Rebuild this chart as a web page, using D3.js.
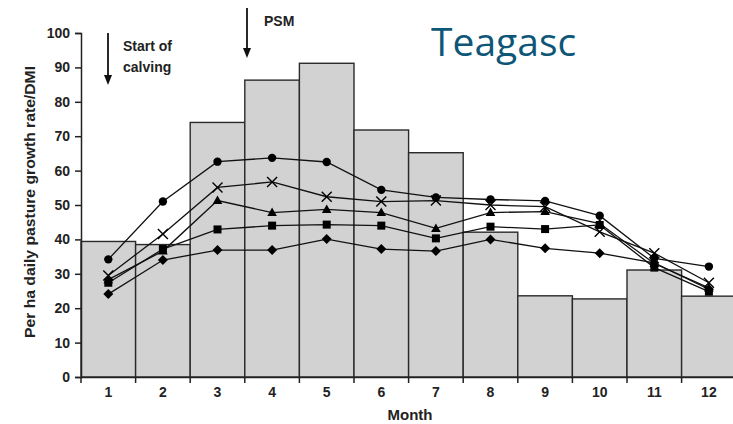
<!DOCTYPE html>
<html><head><meta charset="utf-8">
<script src="https://cdn.jsdelivr.net/npm/d3@7"></script>
<style>body{margin:0;background:#fff}svg{display:block}text{font-family:"Liberation Sans",Arial,sans-serif}</style>
</head><body><svg id="c" width="733" height="424"></svg>
<script>
const months = [1,2,3,4,5,6,7,8,9,10,11,12];
const growth = [39.4,38.5,74.0,86.3,91.2,71.8,65.2,42.1,23.6,22.7,31.1,23.5];
const circleS  = [34.2,51.0,62.6,63.7,62.5,54.4,52.2,51.6,51.2,46.9,34.5,32.1];
const crossS   = [29.5,41.6,55.1,56.7,52.4,51.0,51.3,50.0,49.5,42.2,36.0,27.4];
const triS     = [28.3,36.6,51.3,47.8,48.7,47.8,43.2,47.8,48.1,44.6,33.0,25.9];
const squareS  = [27.4,37.2,42.9,44.0,44.3,44.0,40.3,43.7,43.0,44.2,31.8,24.8];
const diamondS = [24.1,34.0,36.9,36.9,40.1,37.2,36.6,40.0,37.4,36.0,33.2,25.5];
const yTicks = [0,10,20,30,40,50,60,70,80,90,100];

const svg = d3.select("#c");
const x0 = 81, y0 = 377, yTop = 33, bw = 54.6;
const x = d3.scaleBand().domain(months).range([x0, x0 + bw*12]).padding(0);
const y = d3.scaleLinear().domain([0,100]).range([y0, yTop]);
const cx = m => x(m) + x.bandwidth()/2;

// bars
svg.append("g").selectAll("rect").data(months).join("rect")
  .attr("x", d => x(d)).attr("y", (d,i) => y(growth[i]))
  .attr("width", x.bandwidth()).attr("height", (d,i) => y0 - y(growth[i]))
  .attr("fill", "#d2d2d2").attr("stroke", "#2a2a2a").attr("stroke-width", 1.4);

// axes
const ya = svg.append("g").attr("transform", `translate(${x0},0)`)
  .call(d3.axisLeft(y).tickValues(yTicks).tickSize(6).tickPadding(5));
ya.select(".domain").attr("stroke","#222").attr("stroke-width",1.5);
ya.selectAll(".tick line").attr("stroke","#222").attr("stroke-width",1.5);
ya.selectAll("text").attr("font-size",14).attr("font-weight","bold").attr("fill","#222")
  .attr("font-family","'Liberation Sans',Arial,sans-serif");

const xa = svg.append("g").attr("transform", `translate(0,${y0})`)
  .call(d3.axisBottom(x).tickSize(0).tickPadding(10));
xa.select(".domain").attr("stroke","#222").attr("stroke-width",1.5);
xa.selectAll("text").attr("font-size",14).attr("font-weight","bold").attr("fill","#222")
  .attr("font-family","'Liberation Sans',Arial,sans-serif");
// tick marks at band boundaries
svg.append("g").selectAll("line").data(months).join("line")
  .attr("x1", d => x(d)).attr("x2", d => x(d)).attr("y1", y0).attr("y2", y0+6)
  .attr("stroke","#222").attr("stroke-width",1.5);

// lines
const line = d3.line().x((d,i) => cx(months[i])).y(d => y(d));
const series = [circleS, crossS, triS, squareS, diamondS];
const shapes = ["circle","cross","tri","square","diamond"];
const lg = svg.append("g");
series.forEach(s => lg.append("path").attr("d", line(s)).attr("fill","none")
  .attr("stroke","#111").attr("stroke-width",1.3));
series.forEach((s,k) => {
  const g = lg.append("g");
  s.forEach((v,i) => {
    const px = cx(months[i]), py = y(v);
    const sh = shapes[k];
    if (sh === "circle") g.append("circle").attr("cx",px).attr("cy",py).attr("r",4.2).attr("fill","#000");
    else if (sh === "square") g.append("rect").attr("x",px-4).attr("y",py-4).attr("width",8).attr("height",8).attr("fill","#000");
    else if (sh === "tri") g.append("path").attr("d",`M${px},${py-5}L${px+4.8},${py+3.5}L${px-4.8},${py+3.5}Z`).attr("fill","#000");
    else if (sh === "diamond") g.append("path").attr("d",`M${px},${py-5}L${px+5},${py}L${px},${py+5}L${px-5},${py}Z`).attr("fill","#000");
    else g.append("path").attr("d",`M${px-5},${py-5}L${px+5},${py+5}M${px+5},${py-5}L${px-5},${py+5}`).attr("stroke","#000").attr("stroke-width",1.4);
  });
});

// axis titles
svg.append("text").attr("transform","translate(35,202) rotate(-90)").attr("text-anchor","middle")
  .attr("font-size",14.5).attr("font-weight","bold").attr("fill","#222")
  .attr("textLength",272).attr("lengthAdjust","spacingAndGlyphs").text("Per ha daily pasture growth rate/DMI");
svg.append("text").attr("x",410).attr("y",420).attr("text-anchor","middle")
  .attr("font-size",15).attr("font-weight","bold").attr("fill","#222").text("Month");

// annotations
function arrow(ax, ya1, ya2){
  svg.append("line").attr("x1",ax).attr("x2",ax).attr("y1",ya1).attr("y2",ya2-8).attr("stroke","#111").attr("stroke-width",1.8);
  svg.append("path").attr("d",`M${ax-4},${ya2-10}L${ax+4},${ya2-10}L${ax},${ya2}Z`).attr("fill","#111");
}
arrow(108, 33, 85);
arrow(247, 8, 58);
svg.append("text").attr("x",123).attr("y",51).attr("font-size",14).attr("font-weight","bold").attr("fill","#222").text("Start of");
svg.append("text").attr("x",123).attr("y",72).attr("font-size",14).attr("font-weight","bold").attr("fill","#222").text("calving");
svg.append("text").attr("x",264).attr("y",26).attr("font-size",14).attr("font-weight","bold").attr("fill","#222").text("PSM");

svg.append("text").attr("x",431).attr("y",56).attr("font-size",39).attr("fill","#0e5677")
  .style("font-family","'Open Sans',sans-serif").text("Teagasc");
</script></body></html>
